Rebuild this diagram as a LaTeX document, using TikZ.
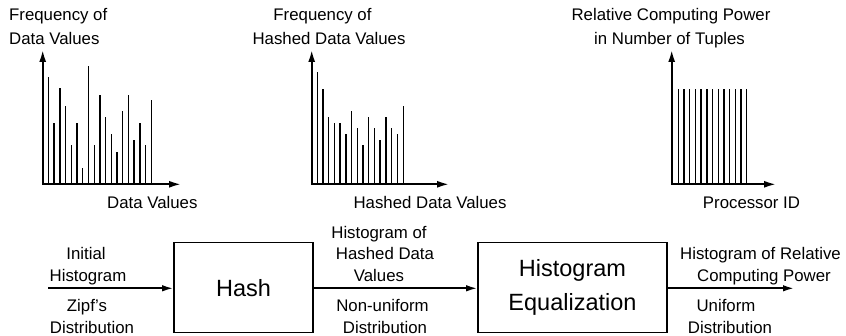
\documentclass[tikz,border=0pt]{standalone}
\usepackage{fontspec}
\setmainfont{Liberation Sans}
\usetikzlibrary{arrows.meta}
\begin{document}
\begin{tikzpicture}[x=1pt,y=-1pt,
  lbl/.style={inner sep=0pt,anchor=base,font=\fontsize{16.8}{18}\selectfont},
  lblw/.style={lbl,anchor=base west},
  axis/.style={line width=1.9pt,{Latex[length=12pt,width=7pt]}-{Latex[length=12pt,width=7pt]}},
  bar/.style={line width=1.4pt},
  box/.style={draw,line width=1.6pt,inner sep=0pt,font=\fontsize{23.5}{34}\selectfont,align=center},
  arr/.style={line width=1.8pt,-{Latex[length=11pt,width=6.5pt]}}]
\useasboundingbox (0,0) rectangle (846,336);

% ---------- plot 1 ----------
\draw[axis] (42.7,50) -- (42.7,184.3) -- (181,184.3);
\foreach \x/\t in {48.3/77.3,54/122.7,59.8/88.3,65.5/106,71.2/145.3,76.9/122.7,82.6/168.3,88.3/66,94.2/145.3,99.9/94.7,105.6/117,111.3/134,117/151.7,122.7/111.3,128.4/94.7,134.1/139.7,139.8/122.7,145.5/145.3,151.5/100}
  \draw[bar] (\x,184.3) -- (\x,\t);
\node[lblw] (t1a) at (9,21) {Frequency of};
\node[lblw] (t1b) at (9,44.5) {Data Values};
\node[lblw] (x1) at (107,208.3) {Data Values};

% ---------- plot 2 ----------
\draw[axis] (311.7,50) -- (311.7,184.3) -- (449,184.3);
\foreach \x/\t in {317.3/71.7,323/88.7,328.7/116.7,334.4/122.7,340.1/122.7,345.8/134,351.5/111.3,357.3/128,363/145.3,368.7/116.7,374.4/128,380.1/139.7,385.9/116.7,391.6/128,397.3/134,403.2/106}
  \draw[bar] (\x,184.3) -- (\x,\t);
\node[lbl] (t2a) at (322.5,21) {Frequency of};
\node[lbl] (t2b) at (329,44.5) {Hashed Data Values};
\node[lbl] (x2) at (430,208.3) {Hashed Data Values};

% ---------- plot 3 ----------
\draw[axis] (671.7,50) -- (671.7,184.3) -- (776,184.3);
\foreach \i in {0,...,12}
  \draw[bar] (678.3+\i*5.7,184.3) -- (678.3+\i*5.7,88.7);
\node[lbl] (t3a) at (671,21) {Relative Computing Power};
\node[lbl] (t3b) at (669.5,44.5) {in Number of Tuples};
\node[lbl] (x3) at (751.5,208.3) {Processor ID};

% ---------- block diagram ----------
\node[box,minimum width=139pt,minimum height=90pt] (hash) at (243.5,287.7) {Hash};
\node[box,minimum width=189pt,minimum height=90pt] (he) at (572.5,287.7) {Histogram\\Equalization};
\coordinate (in) at (48,288.3);
\coordinate (out) at (794,288.3);
\draw[arr] (in) -- (hash.west |- in);
\draw[arr] (hash.east |- in) -- (he.west |- in);
\draw[arr] (he.east |- in) -- (out);

\node[lbl] (a1) at (86,260) {Initial};
\node[lbl] (a2) at (88,281.5) {Histogram};
\node[lbl] (a3) at (87,311.5) {Zipf's};
\node[lbl] (a4) at (92,333.2) {Distribution};

\node[lbl] (b1) at (379,238.3) {Histogram of};
\node[lbl] (b2) at (385,260) {Hashed Data};
\node[lbl] (b3) at (379,281.5) {Values};
\node[lbl] (b4) at (382.5,311.5) {Non-uniform};
\node[lbl] (b5) at (385,333.2) {Distribution};

\node[lblw] (c1) at (680,260) {Histogram of Relative};
\node[lbl] (c2) at (764,281.5) {Computing Power};
\node[lbl] (c3) at (726,311.5) {Uniform};
\node[lbl] (c4) at (730,333.2) {Distribution};
\end{tikzpicture}
\end{document}
